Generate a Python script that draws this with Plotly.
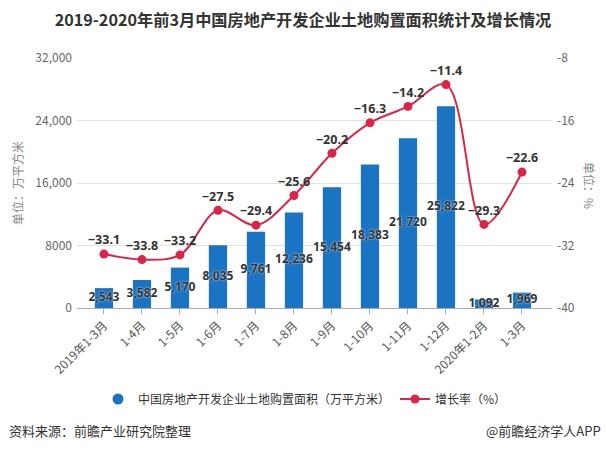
import plotly.graph_objects as go

categories = ["2019年1-3月", "1-4月", "1-5月", "1-6月", "1-7月", "1-8月", "1-9月",
              "1-10月", "1-11月", "1-12月", "2020年1-2月", "1-3月"]
area = [2543, 3582, 5170, 8035, 9761, 12236, 15454, 18383, 21720, 25822, 1092, 1969]
growth = [-33.1, -33.8, -33.2, -27.5, -29.4, -25.6, -20.2, -16.3, -14.2, -11.4, -29.3, -22.6]
left_ticks = [0, 8000, 16000, 24000, 32000]
left_ticktext = ["0", "8000", "16,000", "24,000", "32,000"]
right_ticks = [-40, -32, -24, -16, -8]
right_ticktext = ["-40", "-32", "-24", "-16", "-8"]

BAR_COLOR = "#1a74c3"
LINE_COLOR = "#dc2448"
FONT = "Noto Sans CJK SC"

x = list(range(len(categories)))
W, H = 606, 451
L, R, T, B = 77, 54, 58, 143
pw, ph = W - L - R, H - T - B

def px_x(p):
    return (p - L) / pw

def px_y(p):
    return (H - B - p) / ph

fig = go.Figure()

fig.add_trace(go.Bar(
    x=x, y=area, marker=dict(color=BAR_COLOR, line=dict(width=0)),
    width=0.48, showlegend=False, hoverinfo="skip",
))

fig.add_trace(go.Scatter(
    x=x, y=[v / 2 for v in area], mode="text",
    text=[f"{v:,}" for v in area],
    textfont=dict(family="Noto Sans", size=12, color="#333333", weight="bold",
                  shadow="0px 0px 2px #ffffff"),
    textposition="middle center", showlegend=False, hoverinfo="skip", cliponaxis=False,
))

# legend proxy for bars
fig.add_trace(go.Scatter(
    x=[None], y=[None], mode="markers",
    marker=dict(symbol="circle", size=11, color=BAR_COLOR),
    name="中国房地产开发企业土地购置面积（万平方米）",
))

fig.add_trace(go.Scatter(
    x=x, y=growth, yaxis="y2", mode="lines+markers+text",
    line=dict(color=LINE_COLOR, width=2, shape="spline", smoothing=1.0),
    marker=dict(size=9, color=LINE_COLOR),
    text=[f"{v:.1f}".replace("-", "\u2212") for v in growth],
    textposition="top center",
    textfont=dict(family="Noto Sans", size=12.5, color="#333333", weight="bold"),
    name="增长率（%）", cliponaxis=False,
))

fig.update_layout(
    width=W, height=H,
    margin=dict(l=L, r=R, t=T, b=B, autoexpand=False),
    paper_bgcolor="white", plot_bgcolor="white",
    font=dict(family=FONT, size=12, color="#555555"),
    title=dict(text="<b>2019-2020年前3月中国房地产开发企业土地购置面积统计及增长情况</b>",
               x=0.5, xanchor="center", y=1 - 20 / H, yanchor="middle",
               font=dict(family=FONT, size=16.2, color="#333333")),
    xaxis=dict(
        range=[-0.71, 11.79], tickmode="array", tickvals=x, ticktext=categories,
        tickangle=-45, showgrid=False, zeroline=False,
        showline=True, linecolor="#aaaaaa", linewidth=1,
        ticks="outside", ticklen=5, tickcolor="#aaaaaa",
        tickfont=dict(family=FONT, size=12, color="#555555"),
    ),
    yaxis=dict(
        range=[0, 32000], tickmode="array", tickvals=left_ticks, ticktext=left_ticktext,
        showgrid=True, gridcolor="#e3e3e3", gridwidth=1, zeroline=False,
        showline=False, ticks="", ticklabelstandoff=4,
        tickfont=dict(family=FONT, size=12, color="#666666"),
    ),
    yaxis2=dict(
        range=[-40, -8], overlaying="y", side="right", tickmode="array",
        tickvals=right_ticks, ticktext=right_ticktext, showgrid=False, zeroline=False,
        showline=False, ticks="", ticklabelstandoff=4,
        tickfont=dict(family=FONT, size=12, color="#666666"),
    ),
    legend=dict(
        orientation="h", x=px_x(98), xanchor="left", y=px_y(399), yanchor="middle",
        font=dict(family=FONT, size=12, color="#333333"), bgcolor="rgba(0,0,0,0)",
        traceorder="normal",
    ),
    showlegend=True,
)

annotations = [
    dict(text="单位：万平方米", x=px_x(17), y=px_y(183), xref="paper", yref="paper",
         textangle=-90, showarrow=False, xanchor="center", yanchor="middle",
         font=dict(family=FONT, size=12, color="#888888")),
    dict(text="单位：%", x=px_x(590), y=px_y(185), xref="paper", yref="paper",
         textangle=90, showarrow=False, xanchor="center", yanchor="middle",
         font=dict(family=FONT, size=12, color="#888888")),
    dict(text="资料来源：前瞻产业研究院整理", x=px_x(7), y=px_y(430), xref="paper", yref="paper",
         showarrow=False, xanchor="left", yanchor="middle",
         font=dict(family=FONT, size=13, color="#333333")),
    dict(text="@前瞻经济学人APP", x=px_x(603), y=px_y(430), xref="paper", yref="paper",
         showarrow=False, xanchor="right", yanchor="middle",
         font=dict(family=FONT, size=13, color="#333333")),
]
fig.update_layout(annotations=annotations)

fig.write_html(
    "out.html",
    config={"displayModeBar": False},
    post_script="document.body.style.margin='0px';document.body.style.padding='0px';",
)
